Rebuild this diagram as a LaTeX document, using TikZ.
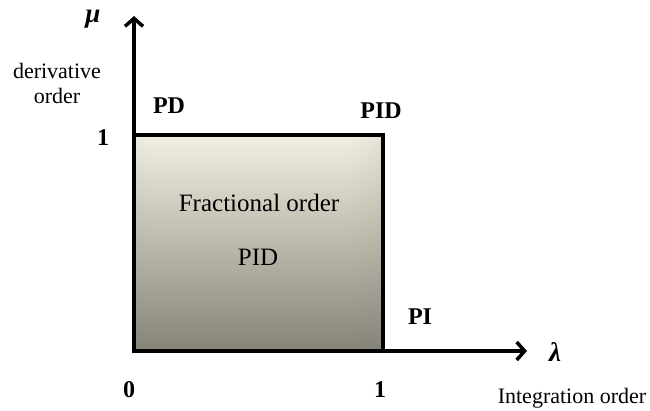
\documentclass[tikz,border=0pt]{standalone}
\usepackage{fontspec}
\setmainfont{Liberation Serif}
\usetikzlibrary{arrows.meta,fadings}

\definecolor{sqlight}{HTML}{F2F0E2}
\definecolor{sqedge}{HTML}{7E7C70}
\definecolor{sqdark}{HTML}{7A786C}

% light band across the middle, darker towards the left and right sides
\pgfdeclarehorizontalshading{sqshade}{100bp}{color(0bp)=(sqedge); color(4bp)=(sqlight!50!sqedge); color(12bp)=(sqlight!82!sqedge); color(28bp)=(sqlight); color(68bp)=(sqlight); color(84bp)=(sqlight!78!sqedge); color(95bp)=(sqlight!50!sqedge); color(100bp)=(sqedge)}
% darkening that grows towards the bottom
\tikzfading[name=downfade, top color=transparent!100, middle color=transparent!80, bottom color=transparent!10]

\begin{document}
\begin{tikzpicture}[x=1pt,y=-1pt,
  axis/.style={line width=4pt, -{Straight Barb[length=8pt,width=18pt,line width=3.5pt]}},
  lbl/.style={font=\fontsize{22}{22}\selectfont, inner sep=0pt},
  inlbl/.style={font=\fontsize{25}{25}\selectfont, inner sep=0pt},
  tag/.style={font=\fontsize{24}{24}\selectfont\bfseries, inner sep=0pt},
  sym/.style={font=\fontsize{27}{27}\selectfont\bfseries\itshape, inner sep=0pt}]
\useasboundingbox (0,0) rectangle (650,410);

\coordinate (O) at (134,351);
\coordinate (ytip) at (134,16);
\coordinate (xtip) at (527,351);
\coordinate (sqtl) at (134,135);
\coordinate (sqbr) at (383,351);

% fractional-order region
\shade[shading=sqshade] (sqtl) rectangle (sqbr);
\fill[sqdark, path fading=downfade] (sqtl) rectangle (sqbr);
\draw[line width=3.5pt] (sqtl) rectangle (sqbr);

% axes
\draw[axis] (O) -- (ytip);
\draw[axis] (O) -- (xtip);

% axis labels
\node[sym] (mu) at (93,19) {μ};
\node[sym] (lam) at (555,352) {λ};
\node[lbl, align=center] (dlabel) at (57,83) {derivative\\[3pt]order};
\node[lbl] (ilabel) at (572,398) {Integration order};

% ticks
\node[tag] (yone) at (103,138) {1};
\node[tag] (zero) at (129,390) {0};
\node[tag] (xone) at (380,390) {1};

% corner tags
\node[tag] (pd) at (169,106) {PD};
\node[tag] (pidc) at (381,111) {PID};
\node[tag] (pi) at (420,317) {PI};

% region text
\node[inlbl] (frac) at (259,203) {Fractional order};
\node[inlbl] (pidin) at (258,257) {PID};
\end{tikzpicture}
\end{document}
